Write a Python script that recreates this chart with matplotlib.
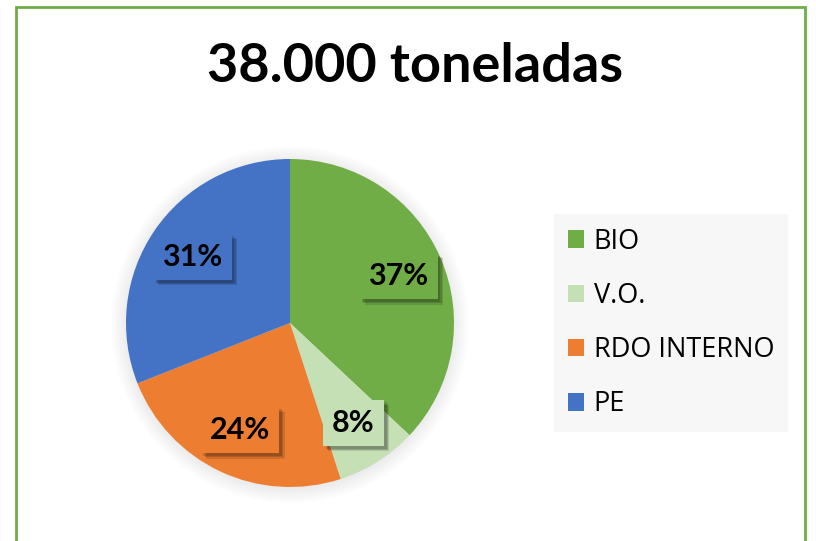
import matplotlib.pyplot as plt
import matplotlib.patheffects as pe
from matplotlib.patches import Rectangle, Circle

# datos
categorias = ['BIO', 'V.O.', 'RDO INTERNO', 'PE']
valores = [37, 8, 24, 31]
colores = ['#70ad47', '#c5e0b4', '#ed7d31', '#4472c4']
titulo = '38.000 toneladas'

W, H = 816, 541
fig = plt.figure(figsize=(W / 100, H / 100), dpi=100)
fig.patch.set_facecolor('white')

# marco verde
fig.patches.append(Rectangle((16 / W, -0.05), (805 - 16) / W, 1.05 - 7 / H,
                             transform=fig.transFigure, fill=False,
                             edgecolor='#70ad47', linewidth=2))

fig.text(415 / W, 1 - 67 / H, titulo, ha='center', va='center',
         fontsize=39, fontweight='bold', family='Lato')

# pastel
cx, cy, r = 290, 323, 164
ax = fig.add_axes([(cx - r) / W, (H - cy - r) / H, 2 * r / W, 2 * r / H])

# sombra suave alrededor del pastel
for i in range(10):
    ax.add_patch(Circle((0.0, -0.01), 1.0 + 0.01 * i, color='black',
                        alpha=0.007, zorder=0, clip_on=False, lw=0))

wedges, textos, pcts = ax.pie(valores, colors=colores, startangle=90,
                              counterclock=False, autopct='%1.0f%%',
                              pctdistance=0.72, radius=1,
                              wedgeprops=dict(linewidth=0))
for w in wedges:
    w.set_zorder(2)

for t, c in zip(pcts, colores):
    t.set_fontsize(22)
    t.set_fontweight('bold')
    t.set_family('Lato')
    t.set_color('black')
    t.set_zorder(3)
    t.set_bbox(dict(boxstyle='square,pad=0.3', facecolor=c, edgecolor='none'))
    t.get_bbox_patch().set_path_effects([
        pe.SimplePatchShadow(offset=(4, -4), shadow_rgbFace='black', alpha=0.12),
        pe.SimplePatchShadow(offset=(3, -3), shadow_rgbFace='black', alpha=0.15),
        pe.SimplePatchShadow(offset=(2, -2), shadow_rgbFace='black', alpha=0.15),
        pe.Normal()])

ax.set_xlim(-1, 1)
ax.set_ylim(-1, 1)
ax.set_aspect('equal')
ax.axis('off')

# leyenda
leg = fig.legend(wedges, categorias, loc='upper left',
                 bbox_to_anchor=(554 / W, 1 - 214 / H), frameon=True,
                 fancybox=False, facecolor='#f7f7f7', edgecolor='none',
                 framealpha=1, prop={'family': 'Open Sans', 'size': 19.5},
                 handlelength=0.62, handleheight=0.62, handletextpad=0.35,
                 labelspacing=0.97, borderpad=0.5, borderaxespad=0)

fig.savefig('out.png', dpi=100)
